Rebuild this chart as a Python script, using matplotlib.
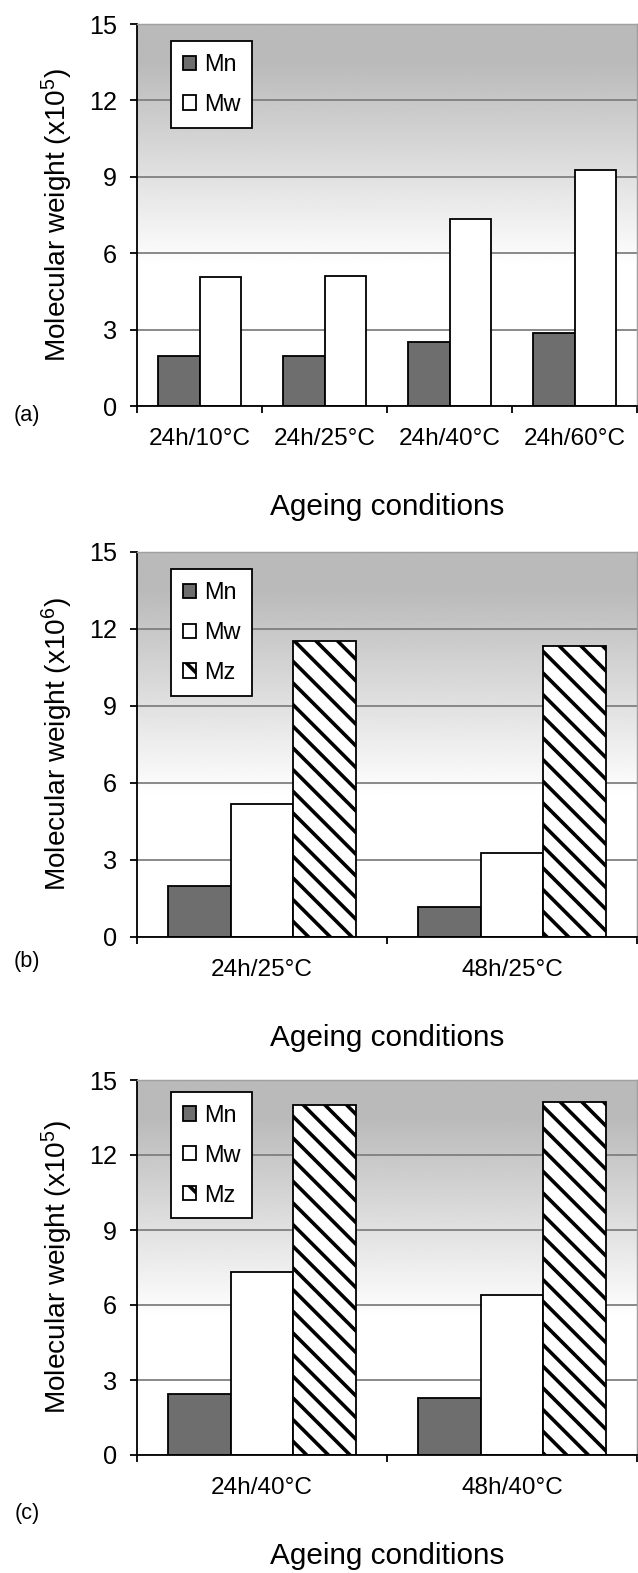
import numpy as np
import matplotlib
matplotlib.use("Agg")
import matplotlib.pyplot as plt

plt.rcParams['font.family'] = ['Liberation Sans', 'DejaVu Sans']
plt.rcParams['mathtext.default'] = 'regular'
plt.rcParams['hatch.linewidth'] = 2.0

# data
conds_a = ['24h/10°C', '24h/25°C', '24h/40°C', '24h/60°C']
mn_a = [1.95, 1.95, 2.5, 2.85]
mw_a = [5.05, 5.1, 7.35, 9.25]

conds_b = ['24h/25°C', '48h/25°C']
mn_b = [1.97, 1.17]
mw_b = [5.17, 3.29]
mz_b = [11.52, 11.35]

conds_c = ['24h/40°C', '48h/40°C']
mn_c = [2.46, 2.28]
mw_c = [7.34, 6.42]
mz_c = [14.02, 14.13]

series_names = ['Mn', 'Mw', 'Mz']
yticks = [0, 3, 6, 9, 12, 15]

styles = {
    'Mn': dict(color='#6e6e6e', hatch=None),
    'Mw': dict(color='white', hatch=None),
    'Mz': dict(color='white', hatch='\\\\'),
}

DPI = 130
fig = plt.figure(figsize=(638 / DPI, 1573 / DPI), dpi=DPI)


def gradient_bg(ax, ncat):
    yy = np.linspace(0, 15, 300)
    t = np.clip((yy - 5.5) / 8.0, 0, 1)
    shade = 1 - 0.27 * t
    img = np.tile(shade[:, None], (1, 2))
    ax.imshow(img, extent=[-0.5, ncat - 0.5, 0, 15], origin='lower',
              aspect='auto', cmap='gray', vmin=0, vmax=1, zorder=0,
              interpolation='bilinear')


def draw_panel(rect, conds, values, exp, tag, tag_y, leg_top):
    ax = fig.add_axes(rect)
    n = len(values)
    ncat = len(conds)
    w = 1.0 / (n + 1)
    x = np.arange(ncat)
    gradient_bg(ax, ncat)
    for k, vals in enumerate(values):
        name = series_names[k]
        st = styles[name]
        off = (k - (n - 1) / 2) * w
        ax.bar(x + off, vals, width=w, color=st['color'], edgecolor='black',
               linewidth=1.0, hatch=st['hatch'], label=name, zorder=2)
    ax.set_xlim(-0.5, ncat - 0.5)
    ax.set_ylim(0, 15)
    ax.set_yticks(yticks)
    ax.yaxis.grid(True, color='#808080', linewidth=1.0)
    ax.set_axisbelow(True)
    # category boundaries as tick marks, names centred between them
    ax.set_xticks(np.arange(ncat + 1) - 0.5)
    ax.set_xticklabels([])
    ax.set_xticks(x, minor=True)
    ax.set_xticklabels(conds, minor=True)
    ax.tick_params(axis='x', which='minor', length=0, labelsize=13.5, pad=12)
    ax.tick_params(axis='x', which='major', direction='out', length=4, width=1.0)
    ax.tick_params(axis='y', direction='out', length=4, width=1.0,
                   labelsize=14, pad=7)
    for s in ['left', 'bottom']:
        ax.spines[s].set_linewidth(1.0)
        ax.spines[s].set_color('black')
    for s in ['top', 'right']:
        ax.spines[s].set_linewidth(0.8)
        ax.spines[s].set_color('#a0a0a0')
    ax.set_ylabel('Molecular weight (x10$^{%d}$)' % exp, fontsize=15.5,
                  labelpad=8)
    ax.set_xlabel('Ageing conditions', fontsize=16.5, labelpad=24)
    leg = ax.legend(loc='upper left', bbox_to_anchor=(0.068, leg_top),
                    fontsize=13, frameon=True, fancybox=False,
                    framealpha=1, edgecolor='black', borderpad=0.5,
                    labelspacing=0.72, handlelength=0.55, handleheight=0.55,
                    handletextpad=0.35, borderaxespad=0)
    leg.get_frame().set_linewidth(1.0)
    fig.text(27 / 638, 1 - tag_y / 1573, tag, fontsize=12,
             ha='center', va='center')
    return ax


draw_panel([137 / 638, 1 - 406 / 1573, 500 / 638, 382 / 1573],
           conds_a, [mn_a, mw_a], 5, '(a)', 416, 0.955)
draw_panel([137 / 638, 1 - 937 / 1573, 500 / 638, 385 / 1573],
           conds_b, [mn_b, mw_b, mz_b], 6, '(b)', 962, 0.955)
draw_panel([137 / 638, 1 - 1455 / 1573, 500 / 638, 375 / 1573],
           conds_c, [mn_c, mw_c, mz_c], 5, '(c)', 1513, 0.968)

fig.savefig('out.png', dpi=DPI)
